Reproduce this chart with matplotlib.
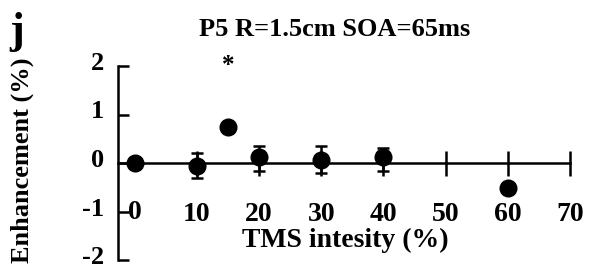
import matplotlib
matplotlib.use("Agg")
import matplotlib.pyplot as plt
import matplotlib.transforms as mtransforms

intensity = [0, 10, 15, 20, 30, 40, 60]
enhancement = [0.0, -0.06, 0.74, 0.13, 0.06, 0.13, -0.52]
err_low = [0.1, 0.25, 0.0, 0.3, 0.27, 0.3, 0.0]
err_high = [0.1, 0.26, 0.0, 0.22, 0.3, 0.17, 0.0]
xticks = [0, 10, 20, 30, 40, 50, 60, 70]
yticks = [-2, -1, 0, 1, 2]

plt.rcParams['font.family'] = ['Liberation Serif', 'DejaVu Serif']
plt.rcParams['font.weight'] = 'bold'

fig = plt.figure(figsize=(5.91, 2.68), dpi=100)
ax = fig.add_axes([118/591, 1-260/268, (570-118)/591, (260-66)/268])

ax.errorbar(intensity, enhancement, yerr=[err_low, err_high], fmt='o', color='black',
            markersize=12, elinewidth=1.8, capsize=4, capthick=1.8, clip_on=False, zorder=5)
ax.text(15, 2.02, '*', ha='center', va='center', fontsize=18, fontweight='bold')

ax.set_xlim(-2.7, 70)
ax.set_ylim(-2, 2)
ax.spines['top'].set_visible(False)
ax.spines['right'].set_visible(False)
ax.spines['bottom'].set_position(('data', 0))
ax.spines['left'].set_linewidth(1.8)
ax.spines['bottom'].set_linewidth(1.8)

ax.set_xticks(xticks[1:])
ax.set_xticklabels([str(t) for t in xticks[1:]])
ax.set_yticks(yticks)
ax.set_yticklabels([str(t) for t in yticks])
ax.tick_params(axis='x', direction='inout', length=18, width=1.8, pad=19, labelsize=20)
ax.tick_params(axis='y', direction='in', length=8, width=1.8, pad=10, labelsize=19)
shift = mtransforms.ScaledTranslation(0, 5/100, fig.dpi_scale_trans)
for lbl in ax.get_xticklabels() + ax.get_yticklabels():
    lbl.set_fontweight('bold')
for lbl in ax.get_yticklabels():
    lbl.set_transform(lbl.get_transform() + shift)
# label for 0 on x axis (tick at 0 hidden by spine)
ax.text(0, -1.03, '0', ha='center', va='center', fontsize=20, fontweight='bold')

fig.text(335/591, 1-30/268, 'P5 R=1.5cm SOA=65ms', ha='center', va='center',
         fontsize=19, fontweight='bold')
fig.text(17/591, 1-32/268, 'j', ha='center', va='center', fontsize=32, fontweight='bold')
fig.text(345/591, 1-240/268, 'TMS intesity (%)', ha='center', va='center',
         fontsize=20, fontweight='bold')
fig.text(22/591, 1-160/268, 'Enhancement (%)', ha='center', va='center', rotation=90,
         fontsize=19, fontweight='bold')

fig.savefig('out.png', dpi=100)
